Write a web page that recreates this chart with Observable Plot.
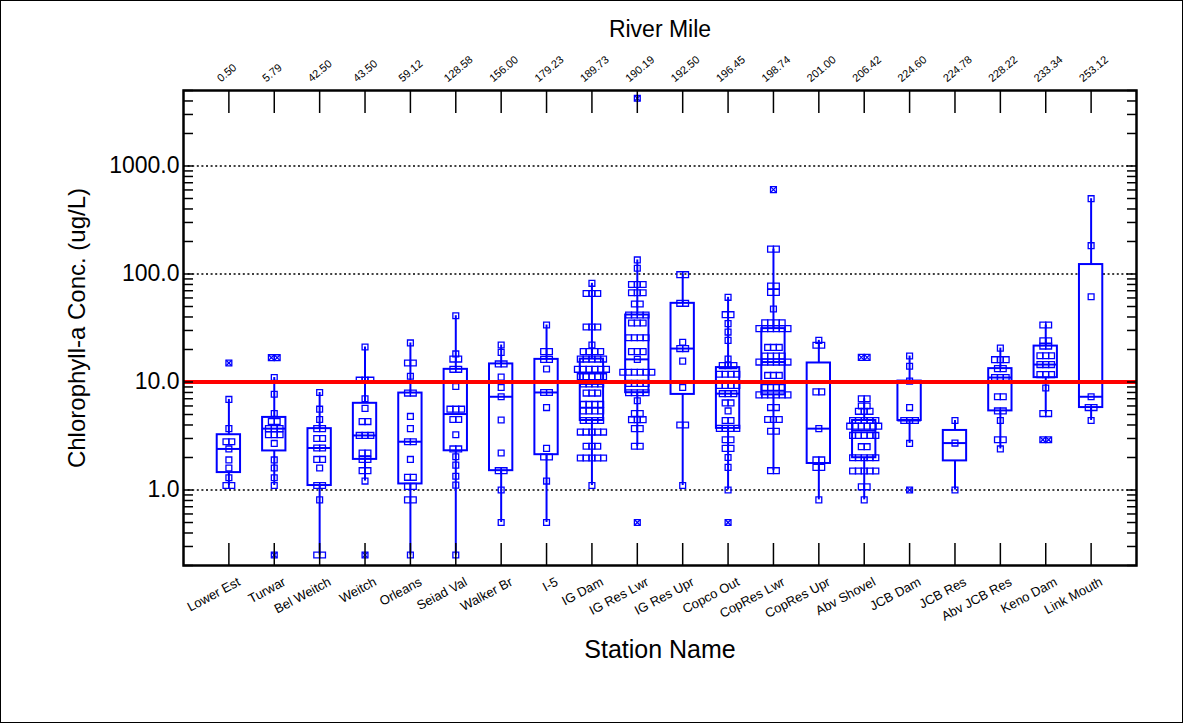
<!DOCTYPE html>
<html>
<head>
<meta charset="utf-8">
<script src="https://cdn.jsdelivr.net/npm/d3@7"></script>
<script src="https://cdn.jsdelivr.net/npm/@observablehq/plot@0.6"></script>
<style>
  body { margin: 0; background: #fff; }
  #chart svg { display: block; outline: 1px solid #000; outline-offset: -1px; }
</style>
</head>
<body>
<div id="chart"></div>
<script>
// ---- Data ----
const stations = ["Lower Est","Turwar","Bel Weitch","Weitch","Orleans","Seiad Val","Walker Br","I-5","IG Dam","IG Res Lwr","IG Res Upr","Copco Out","CopRes Lwr","CopRes Upr","Abv Shovel","JCB Dam","JCB Res","Abv JCB Res","Keno Dam","Link Mouth"];
const riverMiles = ["0.50","5.79","42.50","43.50","59.12","128.58","156.00","179.23","189.73","190.19","192.50","196.45","198.74","201.00","206.42","224.60","224.78","228.22","233.34","253.12"];

const lowerEst  = [15.0, 6.9, 3.7, 2.8, 2.8, 2.4, 1.9, 1.6, 1.3, 1.1, 1.1];
const turwar    = [16.8, 16.8, 11, 7.7, 5.1, 4.3, 4.3, 3.7, 3.7, 3.7, 3.25, 3.25, 3.25, 2.7, 1.9, 1.6, 1.3, 1.1, 0.25];
const belWeitch = [8.0, 5.6, 4.5, 3.7, 3.7, 3.0, 3.0, 2.45, 2.45, 1.92, 1.92, 1.6, 1.1, 1.1, 0.81, 0.25, 0.25];
const weitch    = [21.1, 10.4, 10.4, 10.4, 7.0, 5.7, 4.3, 4.3, 3.2, 3.2, 3.2, 2.2, 2.2, 1.92, 1.92, 1.51, 1.51, 1.21, 0.25];
const orleans   = [23, 15, 15, 11.3, 7.9, 7.9, 4.8, 3.7, 2.8, 2.8, 1.92, 1.31, 1.31, 1.08, 1.08, 0.81, 0.81, 0.25];
const seiadVal  = [41.1, 18.2, 16.3, 16.3, 13.1, 13.1, 9.1, 5.6, 5.6, 5.6, 4.5, 4.5, 3.25, 2.4, 2.4, 2.03, 1.70, 1.34, 1.11, 0.25];
const walkerBr  = [22, 18.8, 14.7, 14.7, 11.1, 8.9, 7.3, 4.45, 2.2, 1.51, 1.51, 1.0, 0.5];
const i5        = [33.7, 19.1, 19.1, 16.2, 16.2, 13.2, 8.0, 8.0, 5.8, 2.43, 2.02, 2.02, 1.21, 0.5];
const igDam     = [82, 66, 66, 66, 32.3, 32.3, 32.3, 22, 19.1, 19.1, 19.1, 19.1, 16.3, 16.3, 16.3, 16.3, 16.3,
                   13.1, 13.1, 13.1, 13.1, 13.1, 13.1, 11.2, 11.2, 11.2, 11.2, 11.2, 9.6, 9.6, 9.6, 9.6,
                   7.9, 7.9, 7.9, 6.2, 6.2, 6.2, 6.2, 5.4, 5.4, 5.4, 5.4, 4.4, 4.4, 4.4, 4.4,
                   3.44, 3.44, 3.44, 3.44, 3.44, 2.54, 2.54, 2.54, 1.98, 1.98, 1.98, 1.98, 1.98, 1.1];
const igResLwr  = [4236, 135, 113, 80, 80, 80, 67, 67, 67, 52.7, 52.7, 41.7, 41.7, 41.7, 41.7, 35.2, 35.2, 35.2,
                   25.7, 25.7, 25.7, 25.7, 19.1, 19.1, 19.1, 16.2, 12.3, 12.3, 12.3, 12.3, 12.3, 12.3,
                   9.7, 9.7, 9.7, 9.7, 7.96, 7.96, 7.96, 7.96, 6.7, 5.1, 5.1, 4.48, 4.48, 4.48, 3.7, 3.7, 2.54, 2.54, 0.5];
const igResUpr  = [98.6, 98.6, 53.5, 53.5, 23.3, 20.4, 20.4, 15.6, 8.9, 4.0, 4.0, 1.1];
const copcoOut  = [60.8, 42, 42, 34.7, 29, 24.3, 16.3, 14.2, 14.2, 14.2, 11.8, 11.8, 11.8, 11.8, 9.3, 9.3, 9.3, 9.3,
                   7.8, 7.8, 7.8, 6.4, 6.4, 5.4, 4.4, 4.4, 3.72, 3.72, 3.72, 3.72, 2.92, 2.92, 2.43, 2.43, 2.0, 1.62, 1.0, 0.5];
const copResLwr = [604, 170, 170, 77.4, 77.4, 67.6, 67.6, 47.4, 35.4, 35.4, 35.4, 35.4, 31.2, 31.2, 31.2, 31.2, 31.2, 31.2,
                   20.9, 20.9, 20.9, 17.4, 17.4, 17.4, 17.4, 15.3, 15.3, 15.3, 15.3, 15.3, 15.3, 11.5, 11.5, 11.5,
                   8.9, 8.9, 8.9, 8.9, 7.6, 7.6, 7.6, 7.6, 7.6, 7.6, 5.8, 5.8, 4.5, 4.5, 4.5, 3.5, 3.5, 1.51, 1.51];
const copResUpr = [24.3, 21.9, 21.9, 8.1, 8.1, 3.7, 1.9, 1.9, 1.62, 1.62, 0.81];
const abvShovel = [16.9, 16.9, 7.0, 7.0, 6.0, 6.0, 5.35, 5.35, 5.35, 4.4, 4.4, 4.4, 4.4, 4.4, 3.9, 3.9, 3.9, 3.9, 3.9, 3.9,
                   3.2, 3.2, 3.2, 3.2, 3.2, 2.52, 2.52, 1.99, 1.99, 1.99, 1.99, 1.99, 1.5, 1.5, 1.5, 1.5, 1.5, 1.07, 1.07, 0.81];
const jcbDam    = [17.4, 14.0, 10.2, 5.8, 4.4, 4.4, 4.4, 2.7, 1.0];
const jcbRes    = [4.4, 2.72, 1.0];
const abvJcbRes = [20.6, 16.1, 16.1, 16.1, 13.3, 13.3, 11.0, 11.0, 11.0, 7.3, 7.3, 5.4, 5.4, 4.4, 2.92, 2.92, 2.4];
const kenoDam   = [33.7, 33.7, 24.1, 24.1, 21.5, 21.5, 17.5, 17.5, 17.5, 14.5, 14.5, 14.5, 11.7, 11.7, 11.7, 8.8, 5.1, 5.1, 2.92, 2.92];
const linkMouth = [498, 183, 61.6, 7.3, 5.8, 5.8, 4.4];

const threshold = 10;
const yLabels = [1, 10, 100, 1000];
const yMinor = [0.2,0.3,0.4,0.5,0.6,0.7,0.8,0.9,2,3,4,5,6,7,8,9,20,30,40,50,60,70,80,90,200,300,400,500,600,700,800,900,2000,3000,4000,5000];

// ---- Derived tables ----
const series = [lowerEst, turwar, belWeitch, weitch, orleans, seiadVal, walkerBr, i5, igDam, igResLwr,
                igResUpr, copcoOut, copResLwr, copResUpr, abvShovel, jcbDam, jcbRes, abvJcbRes, kenoDam, linkMouth];
const HW = 0.257;     // half box width (x units)
const SPREAD = 0.128; // side-by-side spacing of tied points (x units)

const stats = series.map((vals, i) => {
  const s = vals.slice().sort(d3.ascending);
  const q1 = d3.quantileSorted(s, 0.25), med = d3.quantileSorted(s, 0.5), q3 = d3.quantileSorted(s, 0.75);
  const l1 = Math.log10(q1), l3 = Math.log10(q3), k = 1.5 * (l3 - l1);
  const loF = Math.pow(10, l1 - k), hiF = Math.pow(10, l3 + k);
  const inside = s.filter(v => v >= loF && v <= hiF);
  return {i, q1, med, q3, lo: d3.min(inside), hi: d3.max(inside), loF, hiF};
});
const points = [];
series.forEach((vals, i) => {
  const groups = d3.group(vals, v => v);
  for (const [v, arr] of groups) {
    arr.forEach((_, j) => points.push({
      i, v, x: i + (j - (arr.length - 1) / 2) * SPREAD,
      out: v < stats[i].loF || v > stats[i].hiF
    }));
  }
});
const idx = d3.range(stations.length);
const BLUE = "#0000ff";

const chart = Plot.plot({
  width: 1183, height: 723,
  marginLeft: 183, marginRight: 47, marginTop: 90, marginBottom: 158,
  style: {fontFamily: "'Liberation Sans', Arial, sans-serif", background: "#fff", color: "#000"},
  x: {type: "linear", domain: [-1, stations.length], axis: null},
  y: {type: "log", domain: [0.2, 5000], axis: null},
  marks: [
    Plot.ruleY(yLabels, {stroke: "#000", strokeWidth: 1.6, strokeDasharray: "2,2.6"}),
    // whiskers
    Plot.ruleX(stats, {x: "i", y1: "lo", y2: "hi", stroke: BLUE, strokeWidth: 2}),
    // boxes
    Plot.rect(stats, {x1: d => d.i - HW, x2: d => d.i + HW, y1: "q1", y2: "q3", fill: "#fff", stroke: BLUE, strokeWidth: 2}),
    // medians
    Plot.ruleY(stats, {y: "med", x1: d => d.i - HW, x2: d => d.i + HW, stroke: BLUE, strokeWidth: 2}),
    // data points
    Plot.dot(points, {x: "x", y: "v", symbol: "square", r: 3.3, stroke: BLUE, strokeWidth: 1.3, fill: "none"}),
    Plot.dot(points.filter(d => d.out), {x: "x", y: "v", symbol: "times", r: 2.6, stroke: BLUE, strokeWidth: 1.3}),
    // threshold
    Plot.ruleY([threshold], {stroke: "#ff0000", strokeWidth: 4}),
    // frame
    Plot.frame({stroke: "#000", strokeWidth: 2.5}),
    // y axes (inward ticks both sides)
    Plot.axisY(yLabels.concat(yMinor), {anchor: "left", tickSize: -10, fill: "none", label: null, stroke: "#000", strokeWidth: 1.5}),
    Plot.axisY(yLabels.concat(yMinor), {anchor: "right", tickSize: -10, fill: "none", label: null, stroke: "#000", strokeWidth: 1.5}),
    Plot.axisY(yLabels, {anchor: "left", tickSize: 0, tickPadding: 4, tickFormat: d => d.toFixed(1), fontSize: 23, label: null}),
    // x axes (inward ticks top and bottom)
    Plot.axisX(idx, {anchor: "bottom", tickSize: -22, fill: "none", label: null, stroke: "#000", strokeWidth: 1.5}),
    Plot.axisX(idx, {anchor: "top", tickSize: -22, fill: "none", label: null, stroke: "#000", strokeWidth: 1.5}),
    // rotated tick labels
    Plot.text(idx, {x: d => d, frameAnchor: "bottom", text: i => stations[i], rotate: -28, textAnchor: "end", lineAnchor: "top", dx: 8, dy: 11, fontSize: 13}),
    Plot.text(idx, {x: d => d, frameAnchor: "top", text: i => riverMiles[i], rotate: -40, textAnchor: "start", lineAnchor: "bottom", dx: -8, dy: -8, fontSize: 11}),
    // titles
    Plot.text(["River Mile"], {frameAnchor: "top", dy: -70, fontSize: 23}),
    Plot.text(["Station Name"], {frameAnchor: "bottom", dy: 92, fontSize: 25}),
    Plot.text(["Chlorophyll-a Conc. (ug/L)"], {frameAnchor: "left", textAnchor: "middle", dx: -106, rotate: -90, fontSize: 24})
  ]
});
document.getElementById("chart").appendChild(chart);
</script>
</body>
</html>
